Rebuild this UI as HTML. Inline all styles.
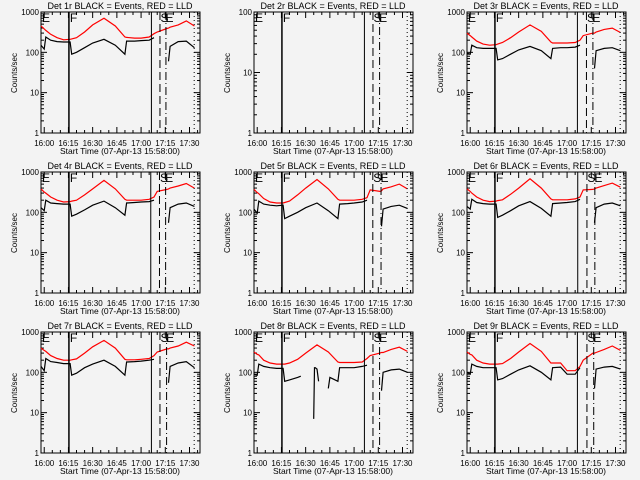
<!DOCTYPE html>
<html><head><meta charset="utf-8"><style>
html,body{margin:0;padding:0;background:#f3f3f3;}
svg{display:block;font-family:"Liberation Sans",sans-serif;}
</style></head><body>
<svg id="chart" width="640" height="480" viewBox="0 0 640 480" xmlns="http://www.w3.org/2000/svg">
<rect width="640" height="480" fill="#f3f3f3"/>
</svg>
<script>
const detNames = ["1r","2r","3r","4r","5r","6r","7r","8r","9r"];
const xTickLabels = ["16:00","16:15","16:30","16:45","17:00","17:15","17:30"];
const xTickMinutes = [0,15,30,45,60,75,90];
const times = [-2,0,1,4,8,12,16,17,20,25,30,37,44,50,51,56,60,65,68,70,76,77,78,83,88,93];
const red1 = [450,380,350,280,230,205,210,215,230,320,480,700,450,240,235,225,225,240,290,320,390,400,420,480,600,450];
const black1 = [150,120,240,200,185,180,180,90,100,130,170,210,150,90,190,190,195,200,230,null,null,60,140,185,190,130];
const red3 = [300,260,240,190,160,150,155,160,175,230,320,480,330,180,170,170,170,175,200,260,300,300,320,370,400,310];
const black3 = [95,90,150,130,125,125,125,65,70,90,115,140,110,70,125,130,130,135,150,null,null,40,110,125,130,110];
const red4 = [380,320,300,240,200,180,185,190,200,270,380,620,380,210,200,200,200,210,240,330,370,380,400,450,520,400];
const black4 = [130,110,200,170,165,160,160,80,90,115,150,190,130,85,170,175,180,185,200,null,null,55,130,160,170,140];
const red5 = [370,310,290,220,180,170,170,175,190,270,400,650,380,210,200,200,200,210,230,360,330,340,380,430,500,380];
const black5 = [120,95,190,160,150,145,150,70,80,100,130,170,110,70,160,165,170,180,200,null,null,45,120,140,150,125];
const red6 = [380,330,300,240,200,185,190,195,205,280,400,680,400,215,205,205,205,215,240,360,370,380,400,460,530,420];
const black6 = [140,120,210,175,165,160,160,75,85,110,145,185,125,80,165,170,175,185,210,null,null,55,130,160,170,145];
const red7 = [400,350,330,260,220,200,200,205,215,300,430,620,400,210,205,205,210,220,260,320,380,380,400,450,560,450];
const black7 = [140,110,220,185,175,165,165,85,95,130,160,200,140,85,180,185,190,200,210,null,null,55,140,170,185,130];
const red9 = [320,280,270,200,170,160,160,160,165,220,320,520,330,170,170,170,110,110,140,200,300,300,310,370,450,350];
const black9 = [100,90,160,140,130,130,130,65,70,90,115,145,100,65,130,135,90,90,130,null,null,40,120,135,140,120];
const times8b = [-2,0,1,4,8,12,16,17,20,25,27,28,34,35,35.5,36,37,38,39,43,44,45,50,51,56,60,65,68,70,76,77,78,83,88,93];
const black8 = [90,85,160,140,130,125,125,60,65,75,80,null,null,7,130,130,120,60,null,null,40,75,60,130,130,130,140,150,null,null,35,100,115,120,100];
const red8 = [320,280,270,200,170,160,160,160,170,210,300,480,320,180,175,175,175,180,220,260,300,310,310,370,420,330];
const redSeries = [red1,null,red3,red4,red5,red6,red7,red8,red9];
const blackSeries = [black1,null,black3,black4,black5,black6,black7,black8,black9];
const yMaxes = [1000,100,1000,1000,1000,1000,1000,1000,1000];
const vSolidA = [15.3,15.3,15.3,15.3,15.3,15.3,15.3,15.3,15.3];
const vSolidB = [66.4,66.4,66.4,66,66.4,66.6,66.4,66.4,66.4];
const vDashed = [71.7,71.7,72,71.4,71.6,72.3,71.7,71.7,72.3];
const vDashDot = [75.4,75.8,76,75.2,76.7,77.2,75.8,75.8,76.5];
const vDotted = [92.9,92.9,92.9,92.9,92.9,92.9,92.9,92.9,92.9];

const NS="http://www.w3.org/2000/svg";
const svg=document.getElementById('chart');
const L=41,R=200,T=12,B=133,TMIN=-2,TMAX=96.5;
function mk(tag,attrs,parent){const e=document.createElementNS(NS,tag);for(const k in attrs)e.setAttribute(k,attrs[k]);parent.appendChild(e);return e;}

detNames.forEach((d,i)=>{
  const ox=(i%3)*213, oy=Math.floor(i/3)*160;
  const g=mk('g',{transform:`translate(${ox},${oy})`},svg);
  
  
  const ymax=yMaxes[i];
  const xs=t=>L+(t-TMIN)/(TMAX-TMIN)*(R-L);
  const ys=v=>B-(Math.log10(v)/Math.log10(ymax))*(B-T);
  const tt=mk('text',{x:120,y:9,'font-size':9,'text-anchor':'middle'},g);
  tt.textContent=`Det ${d} BLACK = Events, RED = LLD`;
  
  
  const fr=mk('rect',{x:L,y:T,width:R-L,height:B-T,fill:'none',stroke:'#000','stroke-width':1},g);
  
  
  const dec=Math.round(Math.log10(ymax));
  for(let p=0;p<=dec;p++){
    const v=Math.pow(10,p), y=ys(v);
    mk('line',{x1:L,y1:y,x2:L+6,y2:y,stroke:'#000'},g);
    mk('line',{x1:R,y1:y,x2:R-6,y2:y,stroke:'#000'},g);
    const lb=mk('text',{x:L-2,y:y+3,'font-size':8,'text-anchor':'end'},g);
    lb.textContent=String(v);
    
    
    if(p<dec){for(let m=2;m<=9;m++){const ym=ys(v*m);
      mk('line',{x1:L,y1:ym,x2:L+3,y2:ym,stroke:'#000'},g);
      mk('line',{x1:R,y1:ym,x2:R-3,y2:ym,stroke:'#000'},g);}}
  }
  for(let t=0;t<=95;t+=5){const x=xs(t);const len=(t%15===0)?6:3;
    mk('line',{x1:x,y1:B,x2:x,y2:B-len,stroke:'#000'},g);
    mk('line',{x1:x,y1:T,x2:x,y2:T+len,stroke:'#000'},g);}
  xTickLabels.forEach((s,k)=>{const lb=mk('text',{x:xs(xTickMinutes[k]),y:146,'font-size':8,'text-anchor':'middle'},g);
    lb.textContent=s;
    
    });
  const xt=mk('text',{x:120,y:154,'font-size':8.5,'text-anchor':'middle'},g);
  xt.textContent='Start Time (07-Apr-13 15:58:00)';
  
  
  const yt=mk('text',{x:0,y:0,'font-size':8,'text-anchor':'middle',transform:'translate(17,73) rotate(-90)'},g);
  yt.textContent='Counts/sec';
  
  
  function drawSeries(tarr,varr,color,name){
    if(!varr)return;
    let segs=[],cur=[];
    varr.forEach((v,k)=>{if(v==null){if(cur.length)segs.push(cur);cur=[];}else cur.push(xs(tarr[k]).toFixed(1)+','+ys(v).toFixed(1));});
    if(cur.length)segs.push(cur);
    segs.forEach(s=>{const pl=mk('polyline',{points:s.join(' '),fill:'none',stroke:color,'stroke-width':1.2},g);
      
      });
  }
  drawSeries(times,redSeries[i],'#ff0000','lld-series');
  drawSeries(i===7?times8b:times,blackSeries[i],'#000000','events-series');
  const vl=(t,dash,name,w)=>{const x=xs(t);const ln=mk('line',{x1:x,y1:T,x2:x,y2:B,stroke:'#000','stroke-width':w||1},g);
    if(dash)ln.setAttribute('stroke-dasharray',dash);
    
    };
  vl(vSolidA[i],null,'marker-f-line',1.5);
  vl(vSolidB[i],null,'marker-solid-line',1);
  vl(vDashed[i],'8,4','marker-dashed-line',1);
  vl(vDashDot[i],'8,3,1,3','marker-dashdot-line',1);
  vl(vDotted[i],'1,3','marker-dotted-line',1);
  const letter=(x,s,name)=>{const e=mk('text',{x:x,y:T+10,'font-size':12},g);e.textContent=s;
    
    };
  letter(L+1,'E','marker-e-label');
  letter(xs(vSolidA[i])+1,'F','marker-f-label');
  letter(xs(vDashed[i])+0.5,'S','marker-s-label');
  letter(xs(vDashDot[i])-0.5,'E','marker-e2-label');
});
</script>
</body></html>
